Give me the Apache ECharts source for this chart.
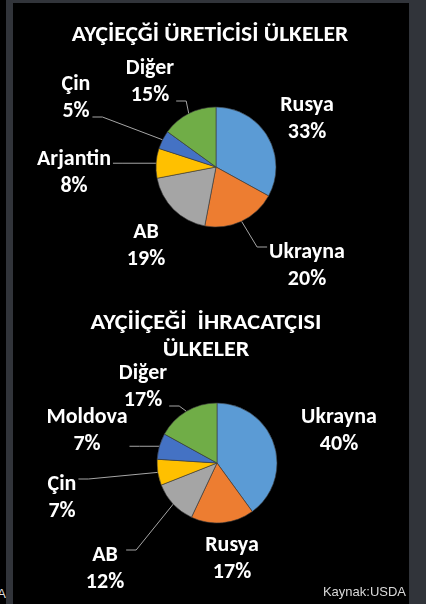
<!DOCTYPE html>
<html>
<head>
<meta charset="utf-8">
<script src="https://cdn.jsdelivr.net/npm/echarts@6/dist/echarts.min.js"></script>
<style>
  html, body { margin: 0; padding: 0; background: #31343a; width: 426px; height: 604px; overflow: hidden; }
  .strip { position: absolute; left: 0; top: 0; width: 6px; height: 604px; background: #000; overflow: hidden; }
  .strip span { position: absolute; right: 0; top: 586px; color: #ddd; font: 13px "Liberation Sans", Arial, sans-serif; }
  .panel { position: absolute; left: 13px; top: 3px; width: 396px; height: 601px; background: #000; }
  #chart { position: absolute; left: 0; top: 0; width: 426px; height: 604px; }
</style>
</head>
<body>
<div class="strip"><span>A</span></div>
<div class="panel"></div>
<div id="chart"></div>
<script>
const productionTitle = 'AYÇİEÇĞİ ÜRETİCİSİ ÜLKELER';
const productionNames = ['Rusya', 'Ukrayna', 'AB', 'Arjantin', 'Çin', 'Diğer'];
const productionValues = [33, 20, 19, 8, 5, 15];
const productionColors = ['#5b9bd5', '#ed7d31', '#a5a5a5', '#ffc000', '#4472c4', '#70ad47'];

const exportTitle = 'AYÇİİÇEĞİ  İHRACATÇISI\nÜLKELER';
const exportNames = ['Ukrayna', 'Rusya', 'AB', 'Çin', 'Moldova', 'Diğer'];
const exportValues = [40, 17, 12, 7, 7, 17];
const exportColors = ['#5b9bd5', '#ed7d31', '#a5a5a5', '#ffc000', '#4472c4', '#70ad47'];

const sourceText = 'Kaynak:USDA';

// where Excel put each data label (centre of the two-line block) and whether it has a leader line
const productionLabelPos = [[307, 119, false], [307, 266, true], [146, 246, false], [74, 173, true], [76, 98, true], [150, 82, true]];
const exportLabelPos = [[339, 431, false], [232, 559, false], [105, 569, true], [62, 498, true], [87, 431, true], [143, 387, true]];

const FONT = 'Carlito, Lato, sans-serif';

function buildData(names, values, colors, pos) {
  return names.map((n, i) => ({
    name: n,
    value: values[i],
    itemStyle: { color: colors[i] },
    labelLine: { show: pos[i][2] }
  }));
}

function pieSeries(center, names, values, colors, pos) {
  return {
    type: 'pie',
    center: center,
    radius: 60,
    startAngle: 90,
    clockwise: true,
    animation: false,
    itemStyle: { borderColor: '#3a3a3a', borderWidth: 0.6 },
    label: {
      show: true,
      formatter: '{b}\n{c}%',
      color: '#fff',
      fontFamily: FONT,
      fontWeight: 'bold',
      fontSize: 22,
      lineHeight: 27,
      align: 'center'
    },
    labelLine: {
      length: 10,
      length2: 12,
      lineStyle: { color: '#a6a6a6', width: 1 }
    },
    labelLayout: function (params) {
      const p = pos[params.dataIndex];
      const out = { x: p[0], y: p[1], align: 'center', verticalAlign: 'middle' };
      const lp = params.labelLinePoints;
      if (p[2] && lp && lp.length) {
        // excel style leader: from slice edge to the near side of the label, short flat run at the end
        const start = lp[0];
        const halfW = params.labelRect.width / 2 + 2;
        const halfH = params.labelRect.height / 2;
        const onLeft = p[0] < center[0];
        const sideX = onLeft ? p[0] + halfW : p[0] - halfW;
        const ly = Math.min(Math.max(start[1], p[1] - halfH + 8), p[1] + halfH - 8);
        const bendX = onLeft ? sideX + 10 : sideX - 10;
        out.labelLinePoints = [start, [bendX, ly], [sideX, ly]];
      }
      return out;
    },
    data: buildData(names, values, colors, pos)
  };
}

const chart = echarts.init(document.getElementById('chart'));

chart.setOption({
  backgroundColor: 'transparent',
  graphic: [
    {
      type: 'text', x: 210, y: 24, scaleX: 1.07,
      style: { text: productionTitle, align: 'center', fill: '#fff', font: 'bold 22px ' + FONT }
    },
    {
      type: 'text', x: 206, y: 310, scaleX: 1.1,
      style: { text: exportTitle, align: 'center', fill: '#fff', font: 'bold 22px ' + FONT, lineHeight: 27 }
    },
    {
      type: 'text', x: 406, y: 599,
      style: { text: sourceText, align: 'right', verticalAlign: 'bottom', fill: '#d9d9d9', font: '13px "Liberation Sans", Arial, sans-serif' }
    }
  ],
  series: [
    pieSeries([216, 167], productionNames, productionValues, productionColors, productionLabelPos),
    pieSeries([217, 463], exportNames, exportValues, exportColors, exportLabelPos)
  ]
});
</script>
</body>
</html>
